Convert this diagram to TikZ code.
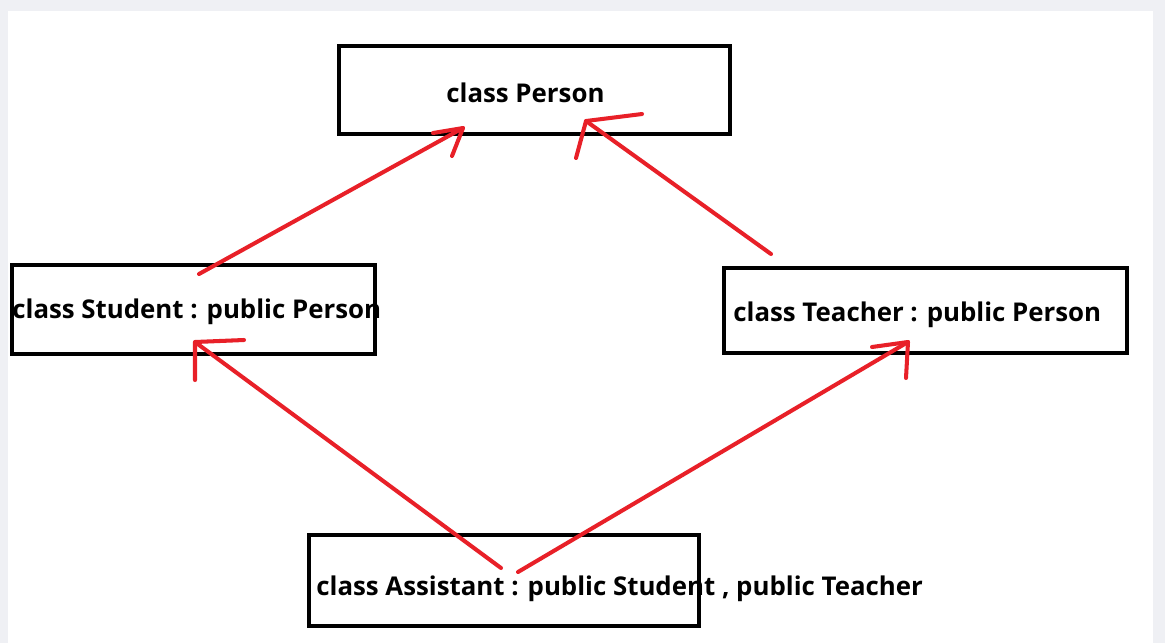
\documentclass[tikz,border=0pt]{standalone}
\usepackage{fontspec}
\setmainfont{Open Sans}
\usetikzlibrary{
    positioning
}
\definecolor{penred}{RGB}{232,32,40}
\definecolor{pagegray}{RGB}{239,240,244}
\tikzset{%
    class box/.style={%
        rectangle,
        draw,
        line width=2.3pt,
        inner sep = 0pt,
        outer sep = 0pt
    },
    class name/.style={%
        anchor=base west,
        inner sep = 0pt,
        font=\fontsize{14.7}{17}\selectfont\bfseries
    },
    pen/.style={%
        draw=penred,
        line width=2.3pt,
        line cap=round,
        line join=round
    },
}

\begin{document}
\begin{tikzpicture}[x=0.02cm, y=-0.02cm]

    % page
    \fill[pagegray] (0,0) rectangle (1165,643);
    \fill[white] (8,11) rectangle (1153,643);
    \useasboundingbox (0,0) rectangle (1165,643);

    % classes
    \node[class box, minimum width=7.82cm, minimum height=1.76cm] (person) at (534.5,90) {};
    \node[class box, minimum width=7.26cm, minimum height=1.78cm] (student) at (193.5,309.5) {};
    \node[class box, minimum width=8.06cm, minimum height=1.70cm] (teacher) at (925.5,310.5) {};
    \node[class box, minimum width=7.80cm, minimum height=1.82cm] (assistant) at (504,580.5) {};

    \node[class name] (person name) at (446,102) {class Person};
    \node[class name] (student name) at (12,318) {class Student : public Person};
    \node[class name] (teacher name) at (733,321) {class Teacher : public Person};
    \node[class name] (assistant name) at (316,595) {class Assistant : public Student , public Teacher};

    % arrow ends
    \coordinate (student top) at (199,274);
    \coordinate (person left) at (463,128);
    \coordinate (teacher top) at (771,254);
    \coordinate (person right) at (586,121);
    \coordinate (assistant left) at (501,568);
    \coordinate (student bottom) at (195,342);
    \coordinate (assistant right) at (518,572);
    \coordinate (teacher bottom) at (908,342);

    % inheritance
    \draw[pen] (student top) -- (person left);
    \draw[pen] (person left) ++(-30,5) -- (person left) -- ++(-11,28);

    \draw[pen] (teacher top) -- (person right);
    \draw[pen] (person right) ++(56,-7) -- (person right) -- ++(-10,37);

    \draw[pen] (assistant left) -- (student bottom);
    \draw[pen] (student bottom) ++(49,-2) -- (student bottom) -- ++(0,38);

    \draw[pen] (assistant right) -- (teacher bottom);
    \draw[pen] (teacher bottom) ++(-36,5) -- (teacher bottom) -- ++(-2,36);
\end{tikzpicture}
\end{document}
